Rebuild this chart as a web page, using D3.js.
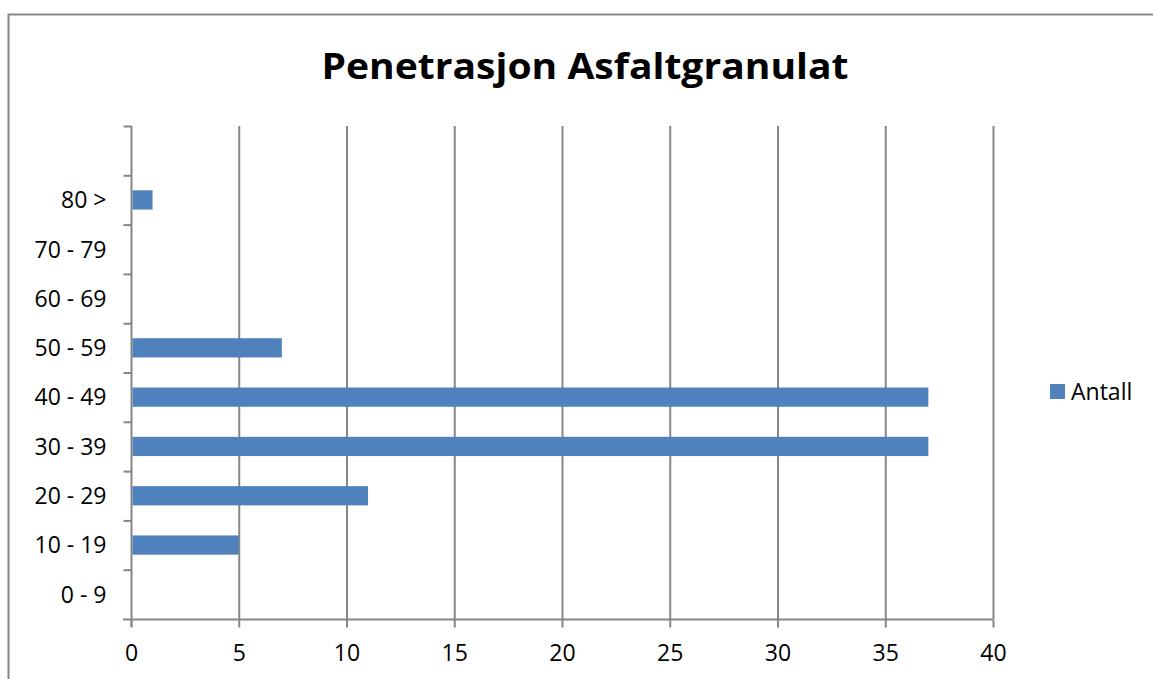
<!DOCTYPE html>
<html>
<head>
<meta charset="utf-8">
<script src="https://cdn.jsdelivr.net/npm/d3@7"></script>
<style>
  body { margin: 0; background: #fff; }
  text { font-family: "Open Sans", "Liberation Sans", sans-serif; fill: #000; }
</style>
</head>
<body>
<div id="chart"></div>
<script>
// categories bottom to top, blank slot on top like the Excel original
var categories = ["0 - 9", "10 - 19", "20 - 29", "30 - 39", "40 - 49", "50 - 59", "60 - 69", "70 - 79", "80 >", ""];
var antall = [0, 5, 11, 37, 37, 7, 0, 0, 1, null];
var xTicks = [0, 5, 10, 15, 20, 25, 30, 35, 40];
var seriesName = "Antall";
var title = "Penetrasjon Asfaltgranulat";

var width = 1153, height = 679;
var plotL = 131, plotR = 993, plotT = 126, plotB = 619;
var grey = "#868686", blue = "#4F81BD";

var svg = d3.select("#chart").append("svg")
    .attr("width", width)
    .attr("height", height);

// outer chart frame (runs off the right and bottom edge)
svg.append("rect")
    .attr("x", 8.5).attr("y", 14.5)
    .attr("width", 1160).attr("height", 700)
    .attr("fill", "none")
    .attr("stroke", grey)
    .attr("stroke-width", 2);

svg.append("text")
    .attr("x", 585).attr("y", 79)
    .attr("text-anchor", "middle")
    .attr("font-size", 36)
    .attr("font-weight", "bold")
    .attr("textLength", 527)
    .attr("lengthAdjust", "spacingAndGlyphs")
    .text(title);

var x = d3.scaleLinear().domain([0, 40]).range([plotL, plotR]);
var y = d3.scaleBand().domain(categories).range([plotB, plotT]).paddingInner(0).paddingOuter(0);

// vertical gridlines
svg.append("g").selectAll("line")
    .data(xTicks.slice(1))
    .enter().append("line")
    .attr("x1", function(d) { return x(d) + 0.5; })
    .attr("x2", function(d) { return x(d) + 0.5; })
    .attr("y1", plotT)
    .attr("y2", plotB)
    .attr("stroke", grey)
    .attr("stroke-width", 2);

// x axis
var xAxis = svg.append("g")
    .attr("transform", "translate(0," + (plotB + 0.5) + ")")
    .call(d3.axisBottom(x).tickValues(xTicks).tickSize(8).tickPadding(17));
xAxis.select(".domain").attr("stroke", grey).attr("stroke-width", 2).attr("d", "M" + (plotL - 8) + ",0H" + plotR);
xAxis.selectAll(".tick line").attr("stroke", grey).attr("stroke-width", 2);
xAxis.selectAll(".tick text").style("font-size", "23px").style("font-family", "Open Sans").attr("fill", "#000");

// y axis: ticks on band edges
var yAxisG = svg.append("g").attr("transform", "translate(" + (plotL + 0.5) + ",0)");
yAxisG.append("line")
    .attr("x1", 0).attr("x2", 0)
    .attr("y1", plotT).attr("y2", plotB + 8)
    .attr("stroke", grey).attr("stroke-width", 2);
yAxisG.selectAll(".edge")
    .data(categories)
    .enter().append("line")
    .attr("class", "edge")
    .attr("x1", -8).attr("x2", 0)
    .attr("y1", function(d) { return y(d) + 0.5; })
    .attr("y2", function(d) { return y(d) + 0.5; })
    .attr("stroke", grey).attr("stroke-width", 2);
yAxisG.selectAll(".lab")
    .data(categories)
    .enter().append("text")
    .attr("class", "lab")
    .attr("x", -25)
    .attr("y", function(d) { return y(d) + y.bandwidth() / 2; })
    .attr("dy", "0.36em")
    .attr("text-anchor", "end")
    .style("font-size", "23px")
    .text(function(d) { return d; });

// bars
var barH = y.bandwidth() * 0.39;
svg.append("g").selectAll("rect")
    .data(categories.map(function(c, i) { return {cat: c, v: antall[i]}; }).filter(function(d) { return d.v; }))
    .enter().append("rect")
    .attr("x", x(0) + 1.5)
    .attr("y", function(d) { return y(d.cat) + (y.bandwidth() - barH) / 2; })
    .attr("width", function(d) { return x(d.v) - x(0) - 1.5; })
    .attr("height", barH)
    .attr("fill", blue);

// legend
var legend = svg.append("g").attr("transform", "translate(1050,384)");
legend.append("rect").attr("width", 15).attr("height", 15).attr("fill", blue);
legend.append("text").attr("x", 21).attr("y", 7.5).attr("dy", "0.36em")
    .style("font-size", "23px").text(seriesName);
</script>
</body>
</html>
